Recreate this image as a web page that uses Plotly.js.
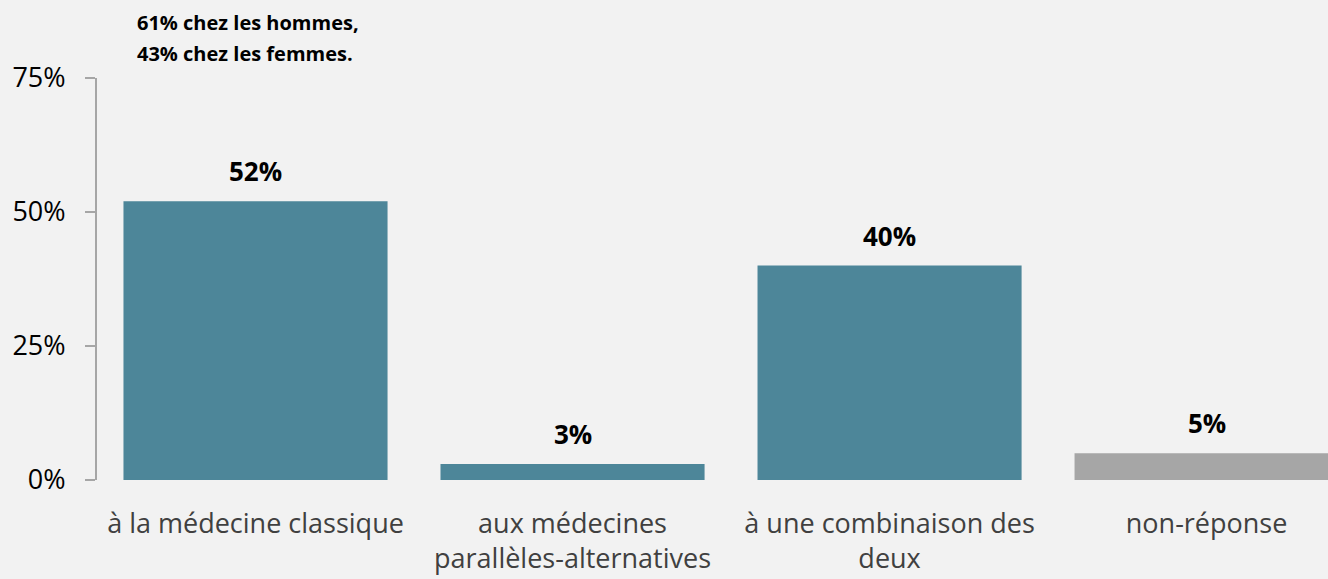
<!DOCTYPE html>
<html><head><meta charset="utf-8">
<script src="https://cdn.plot.ly/plotly-3.0.1.min.js"></script>
<style>html,body{margin:0;padding:0;background:#f2f2f2;}#chart{width:1328px;height:579px;}</style>
</head><body><div id="chart"></div>
<script>
const categories = ["à la médecine classique", "aux médecines<br>parallèles-alternatives", "à une combinaison des<br>deux", "non-réponse"];
const values = [52, 3, 40, 5];
const valueLabels = ["52%", "3%", "40%", "5%"];
const barColors = ["#4d8699", "#4d8699", "#4d8699", "#a6a6a6"];
const tickVals = [0, 25, 50, 75];
const tickText = ["0%", "25%", "50%", "75%"];
const noteLines = ["61% chez les hommes,", "43% chez les femmes."];

const xs = categories.map((c, i) => i);
const trace = {
  type: "bar",
  x: xs,
  y: values,
  marker: {color: barColors},
  hoverinfo: "none"
};
const labelAnnotations = values.map((v, i) => ({
  x: xs[i], y: v, xref: "x", yref: "y",
  text: valueLabels[i], showarrow: false,
  xanchor: "center", yanchor: "bottom", yshift: 10,
  font: {family: "Open Sans, sans-serif", size: 26, color: "#000", weight: "bold"}
}));
const notePos = [1.139, 1.06];
const noteAnnotations = noteLines.map((t, i) => ({
  xref: "paper", yref: "paper",
  x: 0.031, y: notePos[i], xanchor: "left", yanchor: "middle", align: "left",
  text: t, showarrow: false,
  font: {family: "Open Sans, sans-serif", size: 20, color: "#000", weight: "bold"}
}));
const layout = {
  width: 1328, height: 579,
  paper_bgcolor: "#f2f2f2", plot_bgcolor: "#f2f2f2",
  margin: {l: 97, r: 0, t: 78, b: 99},
  bargap: 0.167,
  showlegend: false,
  xaxis: {
    range: [-0.5, 3.383],
    tickmode: "array", tickvals: xs, ticktext: categories,
    showgrid: false, zeroline: false, showline: false, ticks: "",
    ticklabelstandoff: 25,
    tickfont: {family: "Open Sans, sans-serif", size: 27, color: "#404040"},
    fixedrange: true
  },
  yaxis: {
    range: [0, 75],
    tickmode: "array", tickvals: tickVals, ticktext: tickText,
    showgrid: false, zeroline: false,
    showline: true, linecolor: "#a6a6a6", linewidth: 2,
    ticks: "outside", ticklen: 10, tickwidth: 2, tickcolor: "#a6a6a6",
    ticklabelstandoff: 14,
    tickfont: {family: "Open Sans, sans-serif", size: 27, color: "#000"},
    fixedrange: true
  },
  annotations: labelAnnotations.concat(noteAnnotations)
};
Plotly.newPlot("chart", [trace], layout, {displayModeBar: false, staticPlot: true});
</script></body></html>
